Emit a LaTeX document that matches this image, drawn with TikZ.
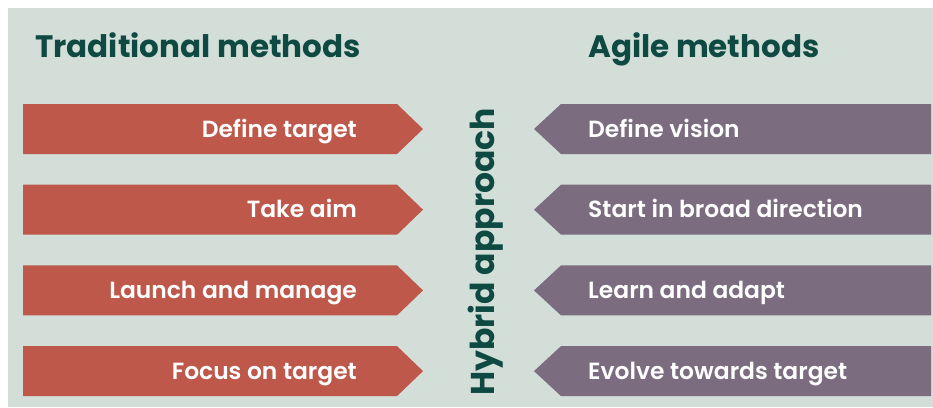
\documentclass[tikz,border=0pt]{standalone}
\usepackage{fontspec}
\setmainfont{Poppins}
\newfontfamily\labelfont{Poppins SemiBold}
\definecolor{panelbg}{RGB}{211,222,217}
\definecolor{tradred}{RGB}{189,88,74}
\definecolor{agilepurple}{RGB}{123,108,128}
\definecolor{headteal}{RGB}{14,74,66}
\begin{document}
\begin{tikzpicture}[x=1pt,y=-1pt,
  heading/.style={font=\fontsize{31}{36}\selectfont\bfseries, text=headteal, inner sep=0pt},
  barlabel/.style={font=\fontsize{23.4}{27}\selectfont\labelfont, text=white, inner sep=0pt},
  tradbar/.style={fill=tradred, draw=none},
  agilebar/.style={fill=agilepurple, draw=none}]
  \useasboundingbox (0,0) rectangle (933,407);
  \fill[panelbg] (8,8) rectangle (933,407);

  % headings
  \node[heading, anchor=base west] (trad) at (35,57) {Traditional methods};
  \node[heading, anchor=base west] (agile) at (588,57) {Agile methods};

  % central vertical label
  \node[heading, rotate=90, anchor=base, font=\fontsize{33}{38}\selectfont\bfseries] (hybrid) at (494,252) {Hybrid approach};

  % arrow bars, one row per step
  \foreach \i/\lt/\rt in {0/Define target/Define vision,
                           1/Take aim/Start in broad direction,
                           2/Launch and manage/Learn and adapt,
                           3/Focus on target/Evolve towards target}{
    \pgfmathsetmacro{\top}{104+80.7*\i}
    \pgfmathsetmacro{\bot}{\top+50}
    \pgfmathsetmacro{\mid}{\top+25}
    \fill[tradbar] (23,\top) -- (397,\top) -- (423,\mid) -- (397,\bot) -- (23,\bot) -- cycle;
    \fill[agilebar] (931,\top) -- (561,\top) -- (534,\mid) -- (561,\bot) -- (931,\bot) -- cycle;
    \node[barlabel, anchor=base east] (tl\i) at (357,\mid+8) {\lt};
    \node[barlabel, anchor=base west] (al\i) at (588,\mid+8) {\rt};
  }
\end{tikzpicture}
\end{document}
